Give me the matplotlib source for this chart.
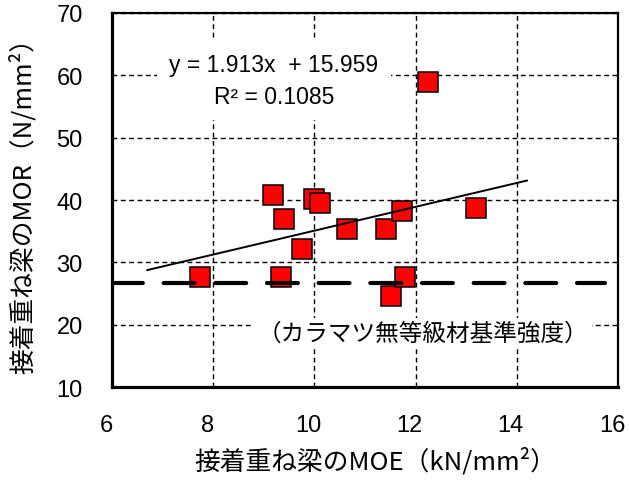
import numpy as np
import matplotlib
matplotlib.use("Agg")
import matplotlib.pyplot as plt
import matplotlib.transforms as mtransforms

plt.rcParams['font.family'] = ['Liberation Sans', 'Noto Sans CJK JP', 'DejaVu Sans']
JP = ['Noto Sans CJK JP', 'DejaVu Sans']

# MOE (kN/mm2) and MOR (N/mm2) of the glued laminated beams
moe = [7.74, 9.18, 9.40, 9.34, 9.75, 10.00, 10.11, 10.64, 11.41, 11.73, 11.51, 11.79, 12.24, 13.19]
mor = [27.6, 40.8, 37.0, 27.6, 32.1, 40.2, 39.6, 35.3, 35.3, 38.2, 24.6, 27.6, 59.0, 38.7]

# linear trendline as reported
slope = 1.913
intercept = 15.959
r2 = 0.1085
trend_range = [6.7, 14.2]

# reference strength for ungraded larch
base_strength = 26.7

xticks = [6, 8, 10, 12, 14, 16]
yticks = [10, 20, 30, 40, 50, 60, 70]

fig = plt.figure(figsize=(6.29, 4.81), dpi=100)
ax = fig.add_axes([0.178, 0.193, 0.8045, 0.778])

ax.plot(moe, mor, linestyle='none', marker='s', markersize=14,
        markerfacecolor='#ff0000', markeredgecolor='black', markeredgewidth=1.1, zorder=3)

tx = np.array(trend_range)
ax.plot(tx, slope * tx + intercept, color='black', lw=1.4, zorder=4)

ax.plot([6, 15.75], [base_strength, base_strength], color='black', lw=3,
        linestyle=(0, (7.4, 5.0)), dash_capstyle='round', solid_capstyle='round', zorder=4)

ax.text(9.2, 59.2, f"y = {slope}x  + {intercept}\nR² = {r2}", fontsize=16.5,
        ha='center', va='center', multialignment='center', linespacing=1.5,
        bbox=dict(boxstyle='square,pad=0.55', fc='white', ec='none'), zorder=5)

ax.text(12.15, 18.7, "（カラマツ無等級材基準強度）", family=JP, fontsize=17,
        ha='center', va='center',
        bbox=dict(boxstyle='square,pad=0.15', fc='white', ec='none'), zorder=5)

ax.set_xlim(6, 16)
ax.set_ylim(10, 70)
ax.set_xticks(xticks)
ax.set_yticks(yticks)
ax.grid(True, color='black', lw=1.0, linestyle=(0, (3.5, 2.5)), zorder=1)
ax.set_axisbelow(True)

ax.tick_params(length=0, labelsize=17)
ax.tick_params(axis='x', pad=19)
ax.tick_params(axis='y', pad=21)

shift = mtransforms.ScaledTranslation(-0.06, 0, fig.dpi_scale_trans)
for lbl in ax.get_xticklabels():
    lbl.set_transform(lbl.get_transform() + shift)

for side in ['left', 'bottom']:
    ax.spines[side].set_linewidth(2.3)
for side in ['top', 'right']:
    ax.spines[side].set_linewidth(1.6)

ax.set_xlabel("接着重ね梁のMOE（kN/mm²）", family=JP, fontsize=18.5)
ax.set_ylabel("接着重ね梁のMOR（N/mm²）", family=JP, fontsize=18.5)
ax.xaxis.set_label_coords(0.52, -0.16)
ax.yaxis.set_label_coords(-0.178 + 0.03, 0.505)

fig.savefig("out.png", dpi=100)
